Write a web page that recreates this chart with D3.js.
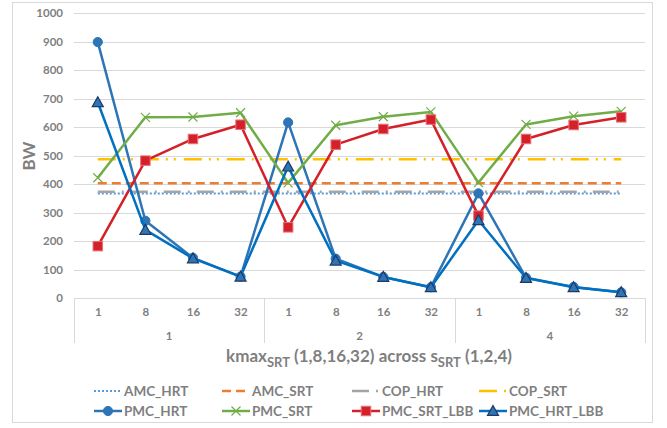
<!DOCTYPE html>
<html>
<head>
<meta charset="utf-8">
<script src="https://cdn.jsdelivr.net/npm/d3@7/dist/d3.min.js"></script>
<style>
  html, body { margin: 0; padding: 0; background: #fff; }
  svg { display: block; font-family: Lato, "Open Sans", sans-serif; }
</style>
</head>
<body>
<svg id="chart" width="667" height="428"></svg>
<script>
// Categories: kmax_SRT within each s_SRT group
const groups = ["1", "2", "4"];
const kmaxLabels = ["1", "8", "16", "32"];
const categories = groups.flatMap(g => kmaxLabels.map(k => ({ group: g, kmax: k })));

const yTicks = [0, 100, 200, 300, 400, 500, 600, 700, 800, 900, 1000];

// Series values (BW), 12 points each
const amcHRT = [367, 367, 367, 367, 367, 367, 367, 367, 367, 367, 367, 367];
const amcSRT = [403, 403, 403, 403, 403, 403, 403, 403, 403, 403, 403, 403];
const copHRT = [373, 373, 373, 373, 373, 373, 373, 373, 373, 373, 373, 373];
const copSRT = [487, 487, 487, 487, 487, 487, 487, 487, 487, 487, 487, 487];
const pmcHRT = [898, 271, 141, 75, 616, 138, 74, 38, 367, 71, 39, 20];
const pmcSRT = [422, 634, 635, 650, 404, 606, 636, 653, 405, 609, 638, 655];
const pmcSRTLBB = [182, 482, 558, 608, 248, 538, 593, 626, 289, 558, 607, 634];
const pmcHRTLBB = [687, 239, 139, 75, 461, 131, 74, 38, 273, 70, 38, 20];

const series = [
  { name: "AMC_HRT", values: amcHRT, color: "#5b9bd5", width: 2, dash: "2,2", marker: null },
  { name: "AMC_SRT", values: amcSRT, color: "#ed7d31", width: 2.5, dash: "9,5", marker: null },
  { name: "COP_HRT", values: copHRT, color: "#a5a5a5", width: 2.5, dash: "17,7,2,7", marker: null },
  { name: "COP_SRT", values: copSRT, color: "#ffc000", width: 2.5, dash: "18,7,2,6,2,8", marker: null },
  { name: "PMC_HRT", values: pmcHRT, color: "#2e75b6", width: 2.5, dash: null, marker: "circle" },
  { name: "PMC_SRT", values: pmcSRT, color: "#70ad47", width: 2.5, dash: null, marker: "x" },
  { name: "PMC_SRT_LBB", values: pmcSRTLBB, color: "#d42029", width: 2.5, dash: null, marker: "square" },
  { name: "PMC_HRT_LBB", values: pmcHRTLBB, color: "#0070c0", width: 2.5, dash: null, marker: "triangle" }
];

const svg = d3.select("#chart");
const grey = "#7f7f7f";
const gridColor = "#d9d9d9";

// chart frame
svg.append("rect")
  .attr("x", 12.5).attr("y", 2.5).attr("width", 640).attr("height", 420)
  .attr("fill", "#fff").attr("stroke", gridColor).attr("stroke-width", 1);

const plot = { left: 74, right: 645, top: 13, bottom: 298 };

const x = d3.scalePoint()
  .domain(d3.range(categories.length))
  .range([plot.left, plot.right])
  .padding(0.5);

const xGroup = d3.scaleBand()
  .domain(groups)
  .range([plot.left, plot.right]);

const y = d3.scaleLinear()
  .domain([0, 1000])
  .range([plot.bottom, plot.top]);

// gridlines
const grid = svg.append("g")
  .attr("transform", `translate(${plot.left},0)`)
  .call(d3.axisLeft(y).tickValues(yTicks).tickSize(-(plot.right - plot.left)).tickFormat(""));
grid.select(".domain").remove();
grid.selectAll("line").attr("stroke", gridColor).attr("stroke-width", 1)
  .attr("shape-rendering", "crispEdges");

// y tick labels
const yAxis = svg.append("g")
  .attr("transform", `translate(${plot.left},0)`)
  .call(d3.axisLeft(y).tickValues(yTicks).tickSize(0).tickPadding(11).tickFormat(d3.format("d")));
yAxis.select(".domain").remove();
yAxis.selectAll("text")
  .attr("fill", grey).attr("font-size", 11.5).attr("font-weight", "bold")
  .attr("font-family", "Lato, sans-serif");

// x axis: baseline, kmax labels, group labels, group separators
svg.append("line")
  .attr("x1", plot.left).attr("x2", plot.right)
  .attr("y1", plot.bottom + 0.5).attr("y2", plot.bottom + 0.5)
  .attr("stroke", gridColor).attr("stroke-width", 1);

const xAxis = svg.append("g")
  .attr("transform", `translate(0,${plot.bottom})`)
  .call(d3.axisBottom(x).tickSize(0).tickPadding(10).tickFormat(i => categories[i].kmax));
xAxis.select(".domain").remove();
xAxis.selectAll("text")
  .attr("fill", grey).attr("font-size", 11.5).attr("font-weight", "bold")
  .attr("font-family", "Lato, sans-serif");

const sepX = groups.map(g => xGroup(g)).concat([plot.right]);
svg.append("g").selectAll("line").data(sepX).join("line")
  .attr("x1", d => Math.round(d) + 0.5).attr("x2", d => Math.round(d) + 0.5)
  .attr("y1", plot.bottom).attr("y2", 343)
  .attr("stroke", gridColor).attr("stroke-width", 1);

svg.append("g").selectAll("text").data(groups).join("text")
  .attr("x", d => xGroup(d) + xGroup.bandwidth() / 2)
  .attr("y", 340)
  .attr("text-anchor", "middle")
  .attr("fill", grey).attr("font-size", 11.5).attr("font-weight", "bold")
  .text(d => d);

// axis titles
const xt = svg.append("text")
  .attr("x", 369).attr("y", 362)
  .attr("text-anchor", "middle")
  .attr("fill", grey).attr("font-size", 17).attr("font-weight", "bold");
xt.append("tspan").text("kmax");
xt.append("tspan").attr("font-size", 13).attr("dy", 5).text("SRT");
xt.append("tspan").attr("dy", -5).text(" (1,8,16,32) across s");
xt.append("tspan").attr("font-size", 13).attr("dy", 5).text("SRT");
xt.append("tspan").attr("dy", -5).text("  (1,2,4)");

svg.append("text")
  .attr("transform", "translate(35,156) rotate(-90)")
  .attr("text-anchor", "middle")
  .attr("fill", grey).attr("font-size", 17).attr("font-weight", "bold")
  .text("BW");

// markers
function drawMarker(g, type, color, cx, cy, scale = 1) {
  if (type === "circle") {
    g.append("circle").attr("cx", cx).attr("cy", cy).attr("r", 4.6 * scale)
      .attr("fill", "#2e75b6").attr("stroke", "#2e75b6").attr("stroke-width", 1);
  } else if (type === "square") {
    const s = 9.5 * scale;
    g.append("rect").attr("x", cx - s / 2).attr("y", cy - s / 2).attr("width", s).attr("height", s)
      .attr("fill", "#d42029").attr("stroke", "#e8707a").attr("stroke-width", 1);
  } else if (type === "triangle") {
    const s = 5.5 * scale;
    g.append("path")
      .attr("d", `M${cx},${cy - s}L${cx + s},${cy + s * 0.8}L${cx - s},${cy + s * 0.8}Z`)
      .attr("fill", "#2e75b6").attr("stroke", "#1f3864").attr("stroke-width", 1.2);
  } else if (type === "x") {
    const s = 4.5 * scale;
    g.append("path")
      .attr("d", `M${cx - s},${cy - s}L${cx + s},${cy + s}M${cx - s},${cy + s}L${cx + s},${cy - s}`)
      .attr("stroke", color).attr("stroke-width", 1.2).attr("fill", "none");
  }
}

const line = d3.line().x((d, i) => x(i)).y(d => y(d));

series.forEach(s => {
  const g = svg.append("g").attr("class", "series");
  g.append("path")
    .datum(s.values)
    .attr("d", line)
    .attr("fill", "none")
    .attr("stroke", s.color)
    .attr("stroke-width", s.width)
    .attr("stroke-dasharray", s.dash)
    .attr("stroke-linejoin", "round");
  if (s.marker) {
    s.values.forEach((v, i) => drawMarker(g, s.marker, s.color, x(i), y(v)));
  }
});

// legend
const legendCols = [94, 222, 352, 479];
const legendRows = [391, 411];
const legend = svg.append("g");
series.forEach((s, i) => {
  const lx = legendCols[i % 4];
  const ly = legendRows[Math.floor(i / 4)];
  const g = legend.append("g");
  g.append("line")
    .attr("x1", lx).attr("x2", lx + 28).attr("y1", ly).attr("y2", ly)
    .attr("stroke", s.color).attr("stroke-width", s.width)
    .attr("stroke-dasharray", s.dash);
  if (s.marker) drawMarker(g, s.marker, s.color, lx + 14, ly, 1);
  g.append("text")
    .attr("x", lx + 30).attr("y", ly + 5)
    .attr("fill", grey).attr("font-size", 13.5).attr("font-weight", "bold")
    .text(s.name);
});
</script>
</body>
</html>
